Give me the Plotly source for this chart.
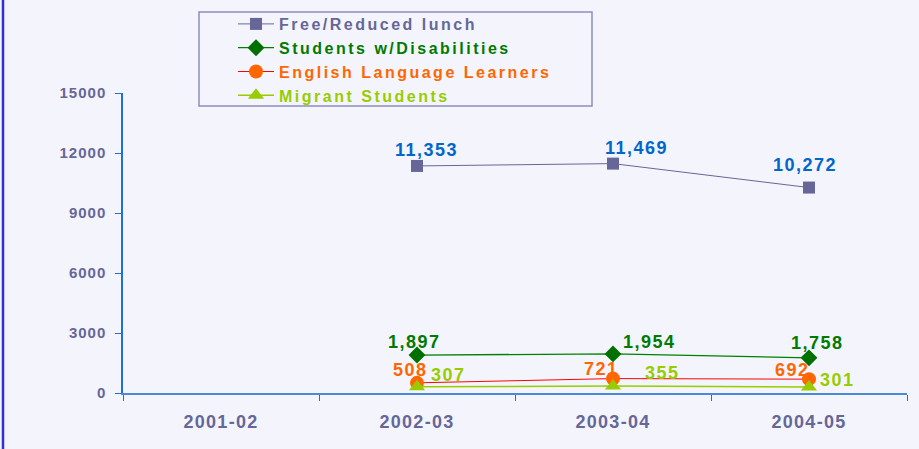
import plotly.graph_objects as go

# ---- data ----
years = ["2001-02", "2002-03", "2003-04", "2004-05"]
free_reduced = [None, 11353, 11469, 10272]
disabilities = [None, 1897, 1954, 1758]
ell = [None, 508, 721, 692]
migrant = [None, 307, 355, 301]
series_names = ["Free/Reduced lunch", "Students w/Disabilities",
                "English Language Learners", "Migrant Students"]
y_ticks = [0, 3000, 6000, 9000, 12000, 15000]

# ---- styling ----
W, H = 919, 449
L, R, T, B = 123, 12, 93, 56
PW, PH = W - L - R, H - T - B
BG = "#F4F5FC"
FONT = "Liberation Sans, Arial, sans-serif"


def px_x(px):
    return (px - L) / PW


def px_y(py):
    return (H - B - py) / PH


styles = [
    dict(line="#666699", marker="#666699", symbol="square", size=12, lw=1, label="#0066CC",
         text="#666699"),
    dict(line="#008000", marker="#007000", symbol="diamond", size=13, lw=1.3, label="#007A00",
         text="#007A00"),
    dict(line="#FF0000", marker="#FF6600", symbol="circle", size=14, lw=1, label="#FF6600",
         text="#FF6600"),
    dict(line="#99CC00", marker="#99CC00", symbol="triangle-up", size=14, lw=1.5, label="#99CC00",
         text="#99CC00"),
]
# label offsets in pixels (dx, dy-up) per series per point
offsets = [
    [None, (9, 16), (23, 16), (-4, 23)],
    [None, (-3, 13), (36, 12), (8, 15)],
    [None, (-7, 13), (-12, 10), (-17, 9)],
    [None, (31, 12), (49, 13), (28, 7)],
]

all_series = [free_reduced, disabilities, ell, migrant]

fig = go.Figure()
annotations = []
for name, vals, st, offs in zip(series_names, all_series, styles, offsets):
    fig.add_trace(go.Scatter(
        x=years, y=vals, mode="lines+markers",
        name=f'<span style="color:{st["text"]}">{name}</span>',
        line=dict(color=st["line"], width=st["lw"]),
        marker=dict(symbol=st["symbol"], size=st["size"], color=st["marker"]),
        connectgaps=False,
    ))
    for xv, yv, off in zip(years, vals, offs):
        if yv is None:
            continue
        annotations.append(dict(
            x=xv, y=yv, xref="x", yref="y", text=f"{yv:,}", showarrow=False,
            xanchor="center", yanchor="middle", xshift=off[0], yshift=off[1],
            font=dict(family=FONT, size=18, color=st["label"], weight="bold"),
        ))

shapes = [
    # legend frame
    dict(type="rect", xref="paper", yref="paper",
         x0=px_x(199), x1=px_x(592), y0=px_y(106), y1=px_y(12),
         line=dict(color="#8C8CBF", width=1.5), fillcolor="rgba(0,0,0,0)", layer="below"),
    # left border line of the picture
    dict(type="line", xref="paper", yref="paper",
         x0=px_x(3), x1=px_x(3), y0=px_y(H + 2), y1=px_y(-2),
         line=dict(color="#3333CC", width=2.5)),
]

fig.update_layout(
    width=W, height=H,
    margin=dict(l=L, r=R, t=T, b=B, pad=0, autoexpand=False),
    paper_bgcolor=BG, plot_bgcolor=BG,
    font=dict(family=FONT, color="#666699"),
    showlegend=True,
    legend=dict(
        x=px_x(233), y=px_y(7), xanchor="left", yanchor="top",
        bgcolor="rgba(0,0,0,0)", borderwidth=0,
        font=dict(family=FONT, size=16, weight="bold"),
        itemwidth=36, tracegroupgap=0,
    ),
    annotations=annotations,
    shapes=shapes,
    xaxis=dict(
        type="category", categoryorder="array", categoryarray=years,
        range=[-0.5, 3.5], tickson="boundaries", ticks="outside", ticklen=6,
        tickcolor="#1F6FD6", showline=True, linecolor="#4A8ADE", linewidth=1.5,
        showgrid=False, zeroline=False,
        tickfont=dict(family=FONT, size=18, color="#666699", weight="bold"),
        ticklabelstandoff=12,
    ),
    yaxis=dict(
        range=[0, 15000], tickvals=y_ticks, ticktext=[str(v) for v in y_ticks],
        ticks="outside", ticklen=6, tickcolor="#1F6FD6",
        showline=True, linecolor="#1F6FD6", linewidth=1.5,
        showgrid=False, zeroline=False,
        tickfont=dict(family=FONT, size=15, color="#666699", weight="bold"),
        ticklabelstandoff=6,
    ),
)

post = """
var gd = document.getElementById('{plot_id}');
document.documentElement.style.margin = '0';
document.body.style.margin = '0';
document.body.style.padding = '0';
document.body.style.overflow = 'hidden';
document.body.style.background = '%s';
var st = document.createElement('style');
st.textContent = '.xtick text{letter-spacing:1.3px}' +
  '.ytick text{letter-spacing:1px}' +
  '.legendtext{letter-spacing:2.5px}' +
  '.annotation-text{letter-spacing:1.5px}';
document.head.appendChild(st);
// change the font string so that cached text sizes are measured again
var oldF = '%s', newF = 'Liberation Sans, Arial, Helvetica, sans-serif';
var lay = JSON.parse(JSON.stringify(gd.layout).split(oldF).join(newF));
var dat = JSON.parse(JSON.stringify(gd.data));
Plotly.purge(gd);
Plotly.newPlot(gd, dat, lay, {displayModeBar: false});
""" % (BG, FONT)

fig.write_html("out.html", config={"displayModeBar": False}, post_script=post)
